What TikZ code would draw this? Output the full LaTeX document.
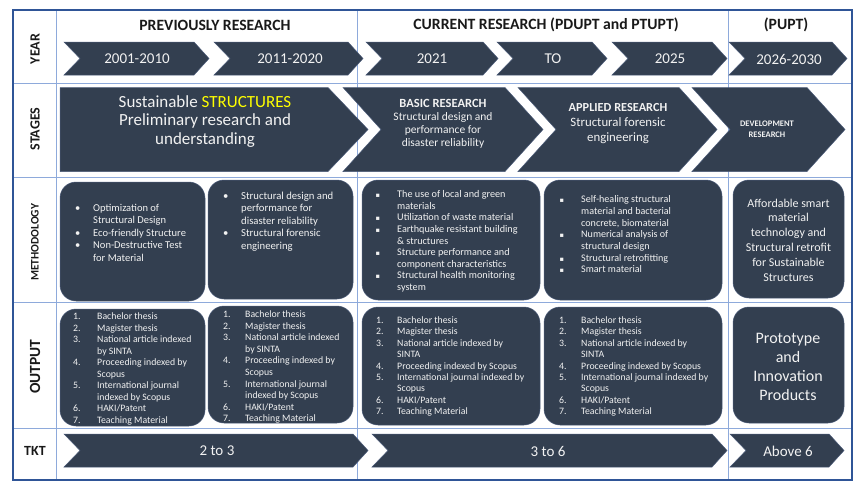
\documentclass[tikz,border=0pt]{standalone}
\usepackage{fontspec}
\setmainfont{Carlito}
\newfontfamily\dejavu{DejaVu Sans}
\definecolor{navy}{HTML}{333F50}
\definecolor{navyedge}{HTML}{4A5A78}
\definecolor{outerblue}{HTML}{2F5597}
\definecolor{gridblue}{HTML}{8EAADB}
\definecolor{txtw}{HTML}{F2F2F2}
\definecolor{hilite}{HTML}{FFFF00}
\newcommand\fs[2]{\fontsize{#1}{#2}\selectfont}
\newcommand\bul{\llap{\makebox[18pt][l]{\textbullet}}}
\newcommand\sq{\llap{\makebox[21.5pt][l]{{\dejavu\fontsize{6.5}{6.5}\selectfont ▪}}}}
\newcommand\num[2]{\llap{\makebox[#1][l]{#2}}}
\begin{document}
\begin{tikzpicture}[x=1pt,y=-1pt,
  chevshape/.style={fill=navy,draw=navyedge,line width=0.5pt},
  rbox/.style={fill=navy,draw=navyedge,line width=0.5pt,rounded corners=16pt},
  wtxt/.style={text=txtw,inner sep=0pt},
  hdr/.style={inner sep=0pt,font=\bfseries\fs{15.7}{18},text=black!90},
  rowlab/.style={inner sep=0pt,font=\bfseries\fs{14}{16},text=black!90,rotate=90},
  grid/.style={draw=gridblue,line width=1pt}]
\useasboundingbox (0,0) rectangle (860,490);
% ---- table grid
\draw[grid] (56,10) -- (56,480);
\draw[grid] (357.5,10) -- (357.5,480);
\draw[grid] (728,10) -- (728,480);
\draw[grid] (13,83.5) -- (852,83.5);
\draw[grid] (13,177) -- (852,177);
\draw[grid] (13,302.5) -- (852,302.5);
\draw[grid] (13,428) -- (852,428);
\draw[draw=outerblue,line width=1.4pt] (13,10) rectangle (852,480);
% ---- headers
\node[hdr] (h1) at (215,25) {PREVIOUSLY RESEARCH};
\node[hdr] (h2) at (546,25) {CURRENT RESEARCH (PDUPT and PTUPT)};
\node[hdr] (h3) at (786,25) {(PUPT)};
% ---- row labels
\node[rowlab] (lyear) at (35,49) {YEAR};
\node[rowlab] (lstage) at (35,129) {STAGES};
\node[rowlab,font=\bfseries\fs{11.5}{13}] (lmeth) at (35,242.5) {METHODOLOGY};
\node[rowlab,font=\bfseries\fs{15.5}{17}] (lout) at (35,366.5) {OUTPUT};
\node[hdr,font=\bfseries\fs{14}{16}] (ltkt) at (35,451) {TKT};
% ---- year chevrons (y 42..75)
\fill[chevshape] (64,42) -- (194,42) -- (209,58.5) -- (194,75) -- (64,75) -- (80,58.5) -- cycle;
\fill[chevshape] (214,42) -- (348,42) -- (363,58.5) -- (348,75) -- (214,75) -- (230,58.5) -- cycle;
\fill[chevshape] (366,42) -- (483,42) -- (498,58.5) -- (483,75) -- (366,75) -- (382,58.5) -- cycle;
\fill[chevshape] (497,42) -- (592,42) -- (607,58.5) -- (592,75) -- (497,75) -- (513,58.5) -- cycle;
\fill[chevshape] (612,42) -- (712,42) -- (727,58.5) -- (712,75) -- (612,75) -- (628,58.5) -- cycle;
\fill[chevshape] (729,42) -- (832,42) -- (847,58.5) -- (832,75) -- (729,75) -- (745,58.5) -- cycle;
\begin{scope}[every node/.style={wtxt,font=\fs{15}{17}}]
\node (y1) at (137,59) {2001-2010};
\node (y2) at (290,59) {2011-2020};
\node (y3) at (432,59) {2021};
\node (y4) at (553,59) {TO};
\node (y5) at (670,59) {2025};
\node (y6) at (789,59) {2026-2030};
\end{scope}
% ---- stage chevrons (y 87.5..171.5)
\fill[chevshape] (60,87.5) -- (328,87.5) -- (368,129.5) -- (328,171.5) -- (60,171.5) -- cycle;
\fill[chevshape] (343,87.5) -- (505,87.5) -- (543,129.5) -- (505,171.5) -- (343,171.5) -- (381,129.5) -- cycle;
\fill[chevshape] (518,87.5) -- (679,87.5) -- (717,129.5) -- (679,171.5) -- (518,171.5) -- (556,129.5) -- cycle;
\fill[chevshape] (692,87.5) -- (807,87.5) -- (845,129.5) -- (807,171.5) -- (692,171.5) -- (730,129.5) -- cycle;
\node[wtxt,align=center,font=\fs{17}{18.6},anchor=north] (s1) at (205,95)
  {Sustainable \textcolor{hilite}{STRUCTURES}\\Preliminary research and\\understanding};
\node[wtxt,align=center,font=\fs{11.5}{13},anchor=north] (s2) at (443,99.5)
  {{\fs{12.5}{13}\bfseries BASIC RESEARCH}\\Structural design and\\performance for\\disaster reliability};
\node[wtxt,align=center,font=\fs{12.8}{15},anchor=north] (s3) at (618,103)
  {{\bfseries\fs{12.3}{15}APPLIED RESEARCH}\\Structural forensic\\engineering};
\node[wtxt,align=center,font=\bfseries\fs{8.5}{10.5},anchor=north] (s4) at (767,121)
  {DEVELOPMENT\\RESEARCH};
% ---- methodology boxes
\fill[rbox] (60,182) rectangle (205,301);
\fill[rbox] (208,180) rectangle (353,299);
\fill[rbox] (362,180) rectangle (540,300);
\fill[rbox] (544,180) rectangle (722,300);
\fill[rbox] (733,180) rectangle (844,298);
\node[wtxt,align=left,font=\fs{10.5}{12.5},anchor=north west] (m1) at (93,204)
  {\bul Optimization of\\Structural Design\\\bul Eco-friendly Structure\\\bul Non-Destructive Test\\for Material};
\node[wtxt,align=left,font=\fs{10.7}{12.5},anchor=north west] (m2) at (241,191.5)
  {\bul Structural design and\\performance for\\disaster reliability\\\bul Structural forensic\\engineering};
\node[wtxt,align=left,font=\fs{10.2}{11.6},anchor=north west] (m3) at (397,190.5)
  {\sq The use of local and green\\materials\\\sq Utilization of waste material\\\sq Earthquake resistant building\\\& structures\\\sq Structure performance and\\component characteristics\\\sq Structural health monitoring\\system};
\node[wtxt,align=left,font=\fs{10.1}{11.7},anchor=north west] (m4) at (581,195.5)
  {\sq Self-healing structural\\material and bacterial\\concrete, biomaterial\\\sq Numerical analysis of\\structural design\\\sq Structural retrofitting\\\sq Smart material};
\node[wtxt,align=center,font=\fs{12}{14.8},anchor=north] (m5) at (788.5,198.5)
  {Affordable smart\\material\\technology and\\Structural retrofit\\for Sustainable\\Structures};
% ---- output boxes
\fill[rbox] (60,309) rectangle (205,426);
\fill[rbox] (208,306) rectangle (353,423);
\fill[rbox] (362,307) rectangle (540,425);
\fill[rbox] (544,307) rectangle (722,425);
\fill[rbox] (733,307) rectangle (844,423);
\node[wtxt,align=left,font=\fs{9.8}{11.5},anchor=north west] (o1) at (97,312.5)
  {\num{24pt}{1.}Bachelor thesis\\\num{24pt}{2.}Magister thesis\\\num{24pt}{3.}National article indexed\\by SINTA\\\num{24pt}{4.}Proceeding indexed by\\Scopus\\\num{24pt}{5.}International journal\\indexed by Scopus\\\num{24pt}{6.}HAKI/Patent\\\num{24pt}{7.}Teaching Material};
\node[wtxt,align=left,font=\fs{9.8}{11.6},anchor=north west] (o2) at (245,310.5)
  {\num{22pt}{1.}Bachelor thesis\\\num{22pt}{2.}Magister thesis\\\num{22pt}{3.}National article indexed\\by SINTA\\\num{22pt}{4.}Proceeding indexed by\\Scopus\\\num{22pt}{5.}International journal\\indexed by Scopus\\\num{22pt}{6.}HAKI/Patent\\\num{22pt}{7.}Teaching Material};
\node[wtxt,align=left,font=\fs{9.8}{11.4},anchor=north west] (o3) at (397,316.5)
  {\num{21pt}{1.}Bachelor thesis\\\num{21pt}{2.}Magister thesis\\\num{21pt}{3.}National article indexed by\\SINTA\\\num{21pt}{4.}Proceeding indexed by Scopus\\\num{21pt}{5.}International journal indexed by\\Scopus\\\num{21pt}{6.}HAKI/Patent\\\num{21pt}{7.}Teaching Material};
\node[wtxt,align=left,font=\fs{9.8}{11.4},anchor=north west] (o4) at (581,316.5)
  {\num{22pt}{1.}Bachelor thesis\\\num{22pt}{2.}Magister thesis\\\num{22pt}{3.}National article indexed by\\SINTA\\\num{22pt}{4.}Proceeding indexed by Scopus\\\num{22pt}{5.}International journal indexed by\\Scopus\\\num{22pt}{6.}HAKI/Patent\\\num{22pt}{7.}Teaching Material};
\node[wtxt,align=center,font=\fs{16}{19},anchor=north] (o5) at (788,333)
  {Prototype\\and\\Innovation\\Products};
% ---- TKT chevrons (y 434..467)
\fill[chevshape] (64,434) -- (353,434) -- (368,450.5) -- (353,467) -- (64,467) -- (80,450.5) -- cycle;
\fill[chevshape] (372,434) -- (712,434) -- (727,450.5) -- (712,467) -- (372,467) -- (388,450.5) -- cycle;
\fill[chevshape] (730,434) -- (829,434) -- (844,450.5) -- (829,467) -- (730,467) -- (746,450.5) -- cycle;
\begin{scope}[every node/.style={wtxt,font=\fs{15}{17}}]
\node (t1) at (217,451) {2 to 3};
\node (t2) at (548,451) {3 to 6};
\node (t3) at (788,451) {Above 6};
\end{scope}
\end{tikzpicture}
\end{document}
